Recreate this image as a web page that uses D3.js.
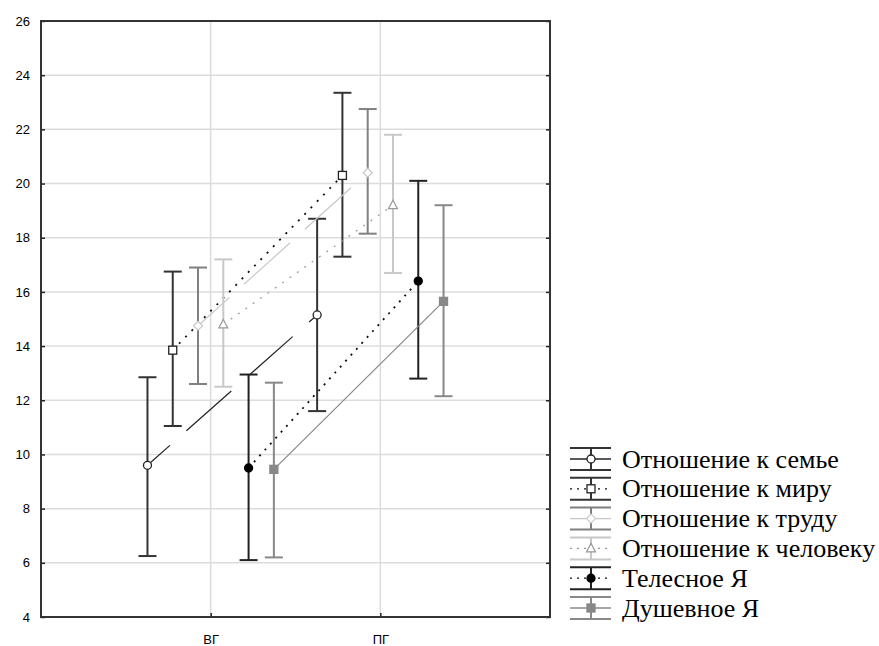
<!DOCTYPE html>
<html>
<head>
<meta charset="utf-8">
<script src="https://cdn.jsdelivr.net/npm/d3@7"></script>
<style>
  body { margin: 0; background: #fff; }
</style>
</head>
<body>
<svg id="chart" width="879" height="646"></svg>
<script>
// groups on the x axis
const groups = ['ВГ', 'ПГ']
const seriesNames = [
  'Отношение к семье',
  'Отношение к миру',
  'Отношение к труду',
  'Отношение к человеку',
  'Телесное Я',
  'Душевное Я'
]
// means and interval ends, one value per series
const meanVG = [9.6, 13.85, 14.75, 14.8, 9.5, 9.45]
const lowVG = [6.25, 11.05, 12.6, 12.5, 6.1, 6.2]
const highVG = [12.85, 16.75, 16.9, 17.2, 12.95, 12.65]
const meanPG = [15.15, 20.3, 20.4, 19.2, 16.4, 15.65]
const lowPG = [11.6, 17.3, 18.15, 16.7, 12.8, 12.15]
const highPG = [18.7, 23.35, 22.75, 21.8, 20.1, 19.2]
const yTicks = [4, 6, 8, 10, 12, 14, 16, 18, 20, 22, 24, 26]

// look of each series: line colour/dash, bar colour, marker
const styles = [
  {line: '#222', dash: '60,22', offset: 30, bar: '#333', marker: 'circle', mfill: '#fff', mstroke: '#222'},
  {line: '#111', dash: '2,7', offset: 0, bar: '#333', marker: 'square', mfill: '#fff', mstroke: '#222'},
  {line: '#c8c8c8', dash: '62,20', offset: 20, bar: '#808080', marker: 'diamond', mfill: '#fff', mstroke: '#c8c8c8'},
  {line: '#999', dash: '2,7', offset: 0, bar: '#c8c8c8', marker: 'triangle', mfill: '#fff', mstroke: '#999'},
  {line: '#111', dash: '2,6', offset: 0, bar: '#222', marker: 'circle', mfill: '#000', mstroke: '#000'},
  {line: '#888', dash: null, offset: 0, bar: '#888', marker: 'square', mfill: '#888', mstroke: '#888'}
]

const svg = d3.select('#chart')
const m = {left: 41, right: 550, top: 21, bottom: 617}

const x = d3.scaleLinear().domain([0, 3]).range([m.left, m.right])
const y = d3.scaleLinear().domain([4, 26]).range([m.bottom, m.top])
const step = 0.149 // horizontal shift between series, in x units

// --- grid
svg.append('g')
  .selectAll('line')
  .data(yTicks.slice(1, -1))
  .join('line')
  .attr('x1', m.left).attr('x2', m.right)
  .attr('y1', d => y(d)).attr('y2', d => y(d))
  .attr('stroke', '#dcdcdc').attr('stroke-width', 1.5)
svg.append('g')
  .selectAll('line')
  .data(groups)
  .join('line')
  .attr('x1', (d, i) => x(i + 1)).attr('x2', (d, i) => x(i + 1))
  .attr('y1', m.top).attr('y2', m.bottom)
  .attr('stroke', '#dcdcdc').attr('stroke-width', 1.5)

// --- axes
const yAxis = d3.axisLeft(y).tickValues(yTicks).tickSizeInner(-4).tickSizeOuter(0).tickPadding(11)
svg.append('g').attr('transform', `translate(${m.left},0)`).call(yAxis)
const yAxisR = d3.axisRight(y).tickValues(yTicks).tickSizeInner(-4).tickSizeOuter(0).tickFormat('')
svg.append('g').attr('transform', `translate(${m.right},0)`).call(yAxisR)
const xAxis = d3.axisBottom(x).tickValues([1, 2]).tickFormat((d) => groups[d - 1])
  .tickSizeInner(-4).tickSizeOuter(0).tickPadding(18)
svg.append('g').attr('transform', `translate(0,${m.bottom})`).call(xAxis)
svg.selectAll('.domain').remove()
svg.selectAll('.tick line').attr('stroke', '#222').attr('stroke-width', 1.5)
svg.selectAll('.tick text')
  .attr('font-family', 'Liberation Sans, Arial, sans-serif')
  .attr('font-size', 13)
  .attr('fill', '#000')

svg.append('rect')
  .attr('x', m.left).attr('y', m.top)
  .attr('width', m.right - m.left).attr('height', m.bottom - m.top)
  .attr('fill', 'none').attr('stroke', '#333').attr('stroke-width', 2)

// --- marker drawing
const drawMarker = (g, s, cx, cy) => {
  if (s.marker === 'circle') {
    g.append('circle').attr('cx', cx).attr('cy', cy).attr('r', 4)
      .attr('fill', s.mfill).attr('stroke', s.mstroke).attr('stroke-width', 1.3)
  } else if (s.marker === 'square') {
    g.append('rect').attr('x', cx - 4).attr('y', cy - 4).attr('width', 8).attr('height', 8)
      .attr('fill', s.mfill).attr('stroke', s.mstroke).attr('stroke-width', 1.3)
  } else if (s.marker === 'diamond') {
    g.append('path').attr('d', `M${cx},${cy - 4.5}L${cx + 4.5},${cy}L${cx},${cy + 4.5}L${cx - 4.5},${cy}Z`)
      .attr('fill', s.mfill).attr('stroke', s.mstroke).attr('stroke-width', 1.2)
  } else {
    g.append('path').attr('d', `M${cx},${cy - 5}L${cx + 4.5},${cy + 3.5}L${cx - 4.5},${cy + 3.5}Z`)
      .attr('fill', s.mfill).attr('stroke', s.mstroke).attr('stroke-width', 1.2)
  }
}

// --- series
const plot = svg.append('g')
seriesNames.forEach((name, i) => {
  const s = styles[i]
  const dx = (i - 2.5) * step
  const pts = [
    {x: 1 + dx, m: meanVG[i], lo: lowVG[i], hi: highVG[i]},
    {x: 2 + dx, m: meanPG[i], lo: lowPG[i], hi: highPG[i]}
  ]
  const g = plot.append('g')
  g.append('path')
    .attr('d', d3.line().x(d => x(d.x)).y(d => y(d.m))(pts))
    .attr('fill', 'none')
    .attr('stroke', s.line)
    .attr('stroke-width', i === 1 || i === 4 ? 1.8 : 1.2)
    .attr('stroke-dasharray', s.dash)
    .attr('stroke-dashoffset', s.offset)
  pts.forEach(p => {
    const px = x(p.x)
    g.append('line').attr('x1', px).attr('x2', px).attr('y1', y(p.lo)).attr('y2', y(p.hi))
      .attr('stroke', s.bar).attr('stroke-width', 2)
    ;[p.lo, p.hi].forEach(v => {
      g.append('line').attr('x1', px - 9).attr('x2', px + 9).attr('y1', y(v)).attr('y2', y(v))
        .attr('stroke', s.bar).attr('stroke-width', 2)
    })
    drawMarker(g, s, px, y(p.m))
  })
})

// --- legend
const legend = svg.append('g')
seriesNames.forEach((name, i) => {
  const s = styles[i]
  const cy = 459 + i * 29.8
  const g = legend.append('g')
  g.append('line').attr('x1', 591).attr('x2', 591).attr('y1', cy - 11).attr('y2', cy + 11)
    .attr('stroke', s.bar).attr('stroke-width', 2)
  ;[-11, 11].forEach(o => {
    g.append('line').attr('x1', 570).attr('x2', 611).attr('y1', cy + o).attr('y2', cy + o)
      .attr('stroke', s.bar).attr('stroke-width', 2)
  })
  g.append('line').attr('x1', 570).attr('x2', 611).attr('y1', cy).attr('y2', cy)
    .attr('stroke', s.line).attr('stroke-width', 1.3)
    .attr('stroke-dasharray', s.dash && s.dash.startsWith('2') ? '2,5' : null)
  drawMarker(g, s, 591, cy)
  g.append('text').attr('x', 622).attr('y', cy + 8.5)
    .attr('font-family', 'Liberation Serif, Times New Roman, serif')
    .attr('font-size', 26)
    .attr('fill', '#000')
    .text(name)
})
</script>
</body>
</html>
